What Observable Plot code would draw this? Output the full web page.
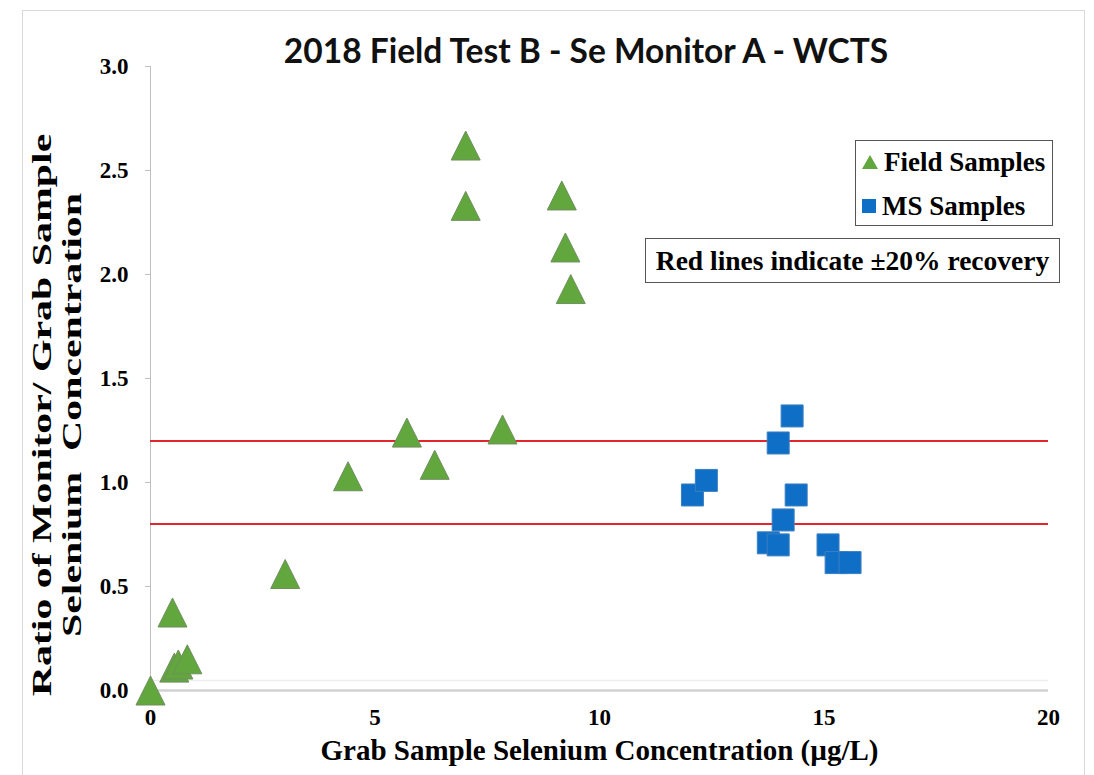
<!DOCTYPE html>
<html>
<head>
<meta charset="utf-8">
<script src="https://cdn.jsdelivr.net/npm/d3@7"></script>
<script src="https://cdn.jsdelivr.net/npm/@observablehq/plot@0.6"></script>
<style>
  html, body { margin: 0; padding: 0; background: #fff; overflow: hidden; }
  #wrap { position: relative; width: 1094px; height: 775px; overflow: hidden; background: #fff; }
  #frame { position: absolute; left: 22px; top: 10px; width: 1063px; height: 820px; border: 1px solid #d9d9d9; box-sizing: border-box; }
  #chart { position: absolute; left: 0; top: 0; }
  .ser { font-family: "Liberation Serif", "Times New Roman", serif; font-weight: bold; color: #000; }
  #title { position: absolute; left: 186px; top: 31px; width: 800px; text-align: center;
           font-family: Lato, "Open Sans", sans-serif; font-weight: bold; font-size: 33.5px; line-height: 38px; color: #111; }
  #ylab { position: absolute; left: -233px; top: 385px; width: 580px; height: 60px; text-align: center;
          font-size: 27px; line-height: 30px; white-space: pre; transform: rotate(-90deg) scaleX(1.55); transform-origin: 50% 50%; }
  #legend { position: absolute; left: 855px; top: 140px; width: 198px; height: 86px; border: 1.3px solid #555; box-sizing: border-box; background: #fff; }
  .row { position: absolute; left: 6px; font-size: 27px; line-height: 30px; white-space: nowrap; }
  .row svg { vertical-align: middle; margin-right: 6px; position: relative; top: -3px; }
  #note { position: absolute; left: 645px; top: 238px; width: 415px; height: 45px; border: 1.3px solid #555; box-sizing: border-box;
          font-size: 27.5px; line-height: 43px; text-align: center; background: #fff; white-space: nowrap; }
</style>
</head>
<body>
<div id="wrap">
  <div id="frame"></div>
  <div id="chart"></div>
  <div id="title"></div>
  <div id="ylab" class="ser"></div>
  <div id="legend" class="ser"></div>
  <div id="note" class="ser"></div>
</div>
<script>
// ---- data ----
const chartTitle = "2018 Field Test B - Se Monitor A - WCTS";
const xLabel = "Grab Sample Selenium Concentration (µg/L)";
const yLabelLines = ["Ratio of Monitor/ Grab Sample", "Selenium  Concentration"];
const seriesNames = ["Field Samples", "MS Samples"];
const noteText = "Red lines indicate ±20% recovery";

const xTicks = [0, 5, 10, 15, 20];
const yTicks = [0, 0.5, 1.0, 1.5, 2.0, 2.5, 3.0];
const recoveryLimits = [0.8, 1.2];

const fieldX = [0.0, 0.49, 0.53, 0.62, 0.82, 3.0, 4.4, 5.71, 6.33, 7.02, 7.02, 7.84, 9.16, 9.24, 9.36];
const fieldY = [0.0, 0.375, 0.11, 0.125, 0.15, 0.56, 1.03, 1.24, 1.085, 2.62, 2.33, 1.255, 2.38, 2.13, 1.93];
const msX = [12.07, 12.38, 13.98, 14.29, 14.38, 14.09, 13.76, 13.98, 15.09, 15.27, 15.58];
const msY = [0.94, 1.01, 1.19, 1.32, 0.94, 0.82, 0.71, 0.70, 0.70, 0.615, 0.615];

// ---- build tables ----
const field = fieldX.map((x, i) => ({x, y: fieldY[i]}));
const ms = msX.map((x, i) => ({x, y: msY[i]}));

const green = "#62a63e", greenEdge = "#6f8f5e";
const blue = "#0f6fc6", blueEdge = "#3b7fc2";

// Excel-style triangle: base equals height, centred on its bounding box
const excelTriangle = {
  draw(context, size) {
    const s = Math.sqrt(size);
    context.moveTo(0, -s / 2);
    context.lineTo(s / 2, s / 2);
    context.lineTo(-s / 2, s / 2);
    context.closePath();
  }
};
const triR = Math.sqrt(29 * 29 / Math.PI);
const sqR = Math.sqrt(22 * 22 / Math.PI);

const plot = Plot.plot({
  width: 1094,
  height: 775,
  marginLeft: 150,
  marginRight: 46,
  marginTop: 66,
  marginBottom: 85,
  style: {fontFamily: "'Liberation Serif', 'Times New Roman', serif", background: "transparent", overflow: "visible"},
  x: {domain: [0, 20]},
  y: {domain: [0, 3]},
  marks: [
    Plot.ruleY([0], {dy: -10, stroke: "#eeeeee", strokeWidth: 1.5}),
    Plot.ruleY([0], {stroke: "#d2d2d2", strokeWidth: 2.5}),
    Plot.ruleX([0], {stroke: "#bfbfbf", strokeWidth: 1}),
    Plot.axisY(yTicks, {tickFormat: d3.format(".1f"), tickSize: 5, tickPadding: 17, fontSize: 23, fontWeight: "bold", stroke: "#bfbfbf", label: null}),
    Plot.axisX(xTicks, {tickFormat: d3.format("d"), tickSize: 0, tickPadding: 18, fontSize: 23, fontWeight: "bold", label: null}),
    Plot.ruleY(recoveryLimits, {stroke: "#e3262c", strokeWidth: 2}),
    Plot.dot(field, {x: "x", y: "y", symbol: excelTriangle, r: triR, fill: green, stroke: greenEdge, strokeWidth: 1}),
    Plot.dot(ms, {x: "x", y: "y", symbol: "square", r: sqR, fill: blue, stroke: blueEdge, strokeWidth: 1}),
    Plot.text([xLabel], {text: d => d, frameAnchor: "bottom", dy: 69, fontSize: 29, fontWeight: "bold", fill: "#000"})
  ]
});
document.getElementById("chart").appendChild(plot);

document.getElementById("title").textContent = chartTitle;
document.getElementById("ylab").textContent = yLabelLines.join("\n");
document.getElementById("note").textContent = noteText;

const legend = document.getElementById("legend");
const triSvg = `<svg width="16" height="14" viewBox="0 0 16 14"><path d="M8,0 L16,14 L0,14 Z" fill="${green}"/></svg>`;
const sqSvg = `<svg width="14" height="14" viewBox="0 0 14 14"><rect width="14" height="14" fill="${blue}"/></svg>`;
legend.innerHTML =
  `<div class="row" style="top:6px">${triSvg}${seriesNames[0]}</div>` +
  `<div class="row" style="top:50px">${sqSvg}${seriesNames[1]}</div>`;
</script>
</body>
</html>
